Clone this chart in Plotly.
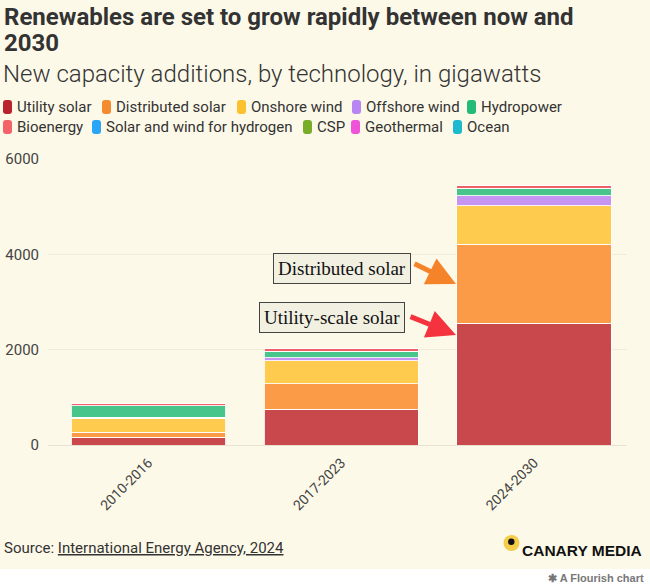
import plotly.graph_objects as go

# ---------------- data ----------------
periods = ["2010-2016", "2017-2023", "2024-2030"]
series_names = ["Utility solar", "Distributed solar", "Onshore wind", "Offshore wind",
                "Hydropower", "Bioenergy", "Solar and wind for hydrogen", "CSP",
                "Geothermal", "Ocean"]
utility_solar = [160, 745, 2550]
distributed_solar = [110, 545, 1660]
onshore_wind = [290, 480, 810]
offshore_wind = [25, 60, 210]
hydropower = [240, 135, 160]
bioenergy = [40, 55, 45]
solar_wind_hydrogen = [0, 0, 5]
csp = [1, 1, 3]
geothermal = [2, 3, 5]
ocean = [0, 0, 0.5]
values = [utility_solar, distributed_solar, onshore_wind, offshore_wind, hydropower,
          bioenergy, solar_wind_hydrogen, csp, geothermal, ocean]
y_ticks = [0, 2000, 4000, 6000]

bar_colors = ["#c9484b", "#fb9b47", "#fecb4e", "#c595f1", "#48c58a",
              "#f06068", "#2fa9f3", "#7aac2b", "#ee5ad8", "#22b6ca"]
swatch_colors = ["#b8232e", "#f68a2e", "#fbc12f", "#b886f2", "#23bb77",
                 "#f4626a", "#2aa5f8", "#78ad2a", "#f052d9", "#1cb9cf"]

BG = "#fdf9e8"
W, H = 650, 588
L, R, T, B = 48, 627, 159, 445  # plot area in pixels


def px(x):
    return (x - L) / (R - L)


def py(y):
    return (B - y) / (B - T)


fig = go.Figure()
for name, vals, col in zip(series_names, values, bar_colors):
    fig.add_trace(go.Bar(
        x=periods, y=vals, name=name,
        marker=dict(color=col, line=dict(color="rgba(255,255,255,0.85)", width=1)),
        showlegend=False, hovertemplate="%{x}: %{y} GW<extra>" + name + "</extra>",
    ))

fig.update_layout(
    width=W, height=H,
    barmode="stack", bargap=0.2,
    paper_bgcolor=BG, plot_bgcolor=BG,
    margin=dict(l=L, r=W - R, t=T, b=H - B, pad=0, autoexpand=False),
    font=dict(family="Roboto, 'Noto Sans', sans-serif", color="#333"),
    xaxis=dict(
        type="category", range=[-0.521, 2.482], tickangle=-45, automargin=False,
        tickfont=dict(size=14, color="#444"), showgrid=False, showline=False,
        ticks="", ticklabelstandoff=6,
    ),
    yaxis=dict(
        range=[0, 6000], tickvals=y_ticks, ticktext=[str(v) for v in y_ticks],
        automargin=False,
        tickfont=dict(size=15, color="#444"), gridcolor="#f1ebd8", gridwidth=1,
        zeroline=True, zerolinecolor="#e9e1d3", zerolinewidth=1,
        showline=False, ticks="", ticklabelstandoff=8,
    ),
)

annotations = []
shapes = []

# Titles
for txt, yc in [("Renewables are set to grow rapidly between now and", 17), ("2030", 43)]:
    annotations.append(dict(
        xref="paper", yref="paper", x=px(2), y=py(yc), xanchor="left", yanchor="middle",
        text="<b>" + txt + "</b>", showarrow=False, align="left",
        font=dict(size=24, color="#333", family="Roboto, sans-serif"),
    ))
annotations.append(dict(
    xref="paper", yref="paper", x=px(1), y=py(74), xanchor="left", yanchor="middle",
    text="New capacity additions, by technology, in gigawatts",
    showarrow=False, align="left",
    font=dict(size=24, color="#333", family="Roboto, sans-serif", weight=300),
))

# Manual legend
legend_pos = [(3, 107), (102, 107), (237, 107), (352, 107), (467, 107),
              (3, 127), (92, 127), (303, 127), (351, 127), (453, 127)]


def rounded_rect(x0, y0, x1, y1, r):
    X = px
    Y = py
    return (f"M {X(x0 + r)} {Y(y0)} L {X(x1 - r)} {Y(y0)} Q {X(x1)} {Y(y0)} {X(x1)} {Y(y0 + r)} "
            f"L {X(x1)} {Y(y1 - r)} Q {X(x1)} {Y(y1)} {X(x1 - r)} {Y(y1)} "
            f"L {X(x0 + r)} {Y(y1)} Q {X(x0)} {Y(y1)} {X(x0)} {Y(y1 - r)} "
            f"L {X(x0)} {Y(y0 + r)} Q {X(x0)} {Y(y0)} {X(x0 + r)} {Y(y0)} Z")


for name, col, (lx, ly) in zip(series_names, swatch_colors, legend_pos):
    shapes.append(dict(type="path", xref="paper", yref="paper",
                       path=rounded_rect(lx, ly - 7, lx + 9, ly + 7, 3),
                       fillcolor=col, line=dict(width=0)))
    annotations.append(dict(
        xref="paper", yref="paper", x=px(lx + 12), y=py(ly), xanchor="left", yanchor="middle",
        text=name, showarrow=False, font=dict(size=15, color="#333"),
    ))

# Callout boxes and arrows
callouts = [
    ("Distributed solar", (341.5, 268), (413, 263), (456, 284), "#f5832a"),
    ("Utility-scale solar", (332, 317), (409, 316), (456, 335), "#f5333f"),
]
for text, (cx, cy), (tx, ty), (hx, hy), acol in callouts:
    annotations.append(dict(
        xref="paper", yref="paper", x=px(cx), y=py(cy), xanchor="center", yanchor="middle",
        text=text, showarrow=False,
        font=dict(size=19, color="#111", family="'Liberation Serif', 'DejaVu Serif', serif"),
        bgcolor="#f2f0e1", bordercolor="#444", borderwidth=1, borderpad=4,
    ))
    annotations.append(dict(
        xref="paper", yref="paper", x=px(hx), y=py(hy), text="", showarrow=True,
        axref="pixel", ayref="pixel", ax=tx - hx, ay=ty - hy,
        arrowhead=2, arrowsize=1.15, arrowwidth=5, arrowcolor=acol, standoff=0,
    ))

# Footer
annotations.append(dict(
    xref="paper", yref="paper", x=px(2), y=py(548), xanchor="left", yanchor="middle",
    text="Source: <u>International Energy Agency, 2024</u>", showarrow=False,
    font=dict(size=15, color="#333"),
))
shapes.append(dict(type="circle", xref="paper", yref="paper",
                   x0=px(503.5), x1=px(519.5), y0=py(535), y1=py(551),
                   fillcolor="#f4cd4a", line=dict(width=0)))
shapes.append(dict(type="circle", xref="paper", yref="paper",
                   x0=px(508), x1=px(514.5), y0=py(538.5), y1=py(545),
                   fillcolor="#111", line=dict(width=0)))
annotations.append(dict(
    xref="paper", yref="paper", x=px(520), y=py(550), xanchor="left", yanchor="middle",
    text="<b>CANARY MEDIA</b>", showarrow=False,
    font=dict(size=15.5, color="#111", family="'Liberation Sans Narrow', 'Liberation Sans', Arial, sans-serif"),
))
# white strip
shapes.append(dict(type="rect", xref="paper", yref="paper",
                   x0=px(0), x1=px(W), y0=py(H), y1=py(569),
                   fillcolor="#ffffff", line=dict(width=0), layer="above"))
annotations.append(dict(
    xref="paper", yref="paper", x=px(646), y=py(578), xanchor="right", yanchor="middle",
    text="<b>✱ A Flourish chart</b>", showarrow=False,
    font=dict(size=11, color="#777", family="'Liberation Sans', Arial, sans-serif"),
))

fig.update_layout(annotations=annotations, shapes=shapes)
fig.write_html("out.html")
